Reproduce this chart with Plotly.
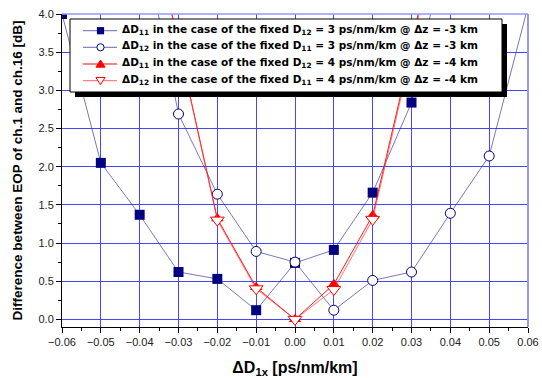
import plotly.graph_objects as go

# Dispersion offset ΔD1x [ps/nm/km]
dx = [-0.06, -0.05, -0.04, -0.03, -0.02, -0.01, 0.00, 0.01, 0.02, 0.03, 0.04, 0.05, 0.06]

# EOP difference between ch.1 and ch.16 [dB]
d11_fix3 = [4.00, 2.05, 1.37, 0.62, 0.53, 0.12, 0.74, 0.91, 1.66, 2.84, 5.20, None, None]
d12_fix3 = [None, None, 5.20, 2.69, 1.64, 0.89, 0.75, 0.12, 0.51, 0.62, 1.39, 2.14, 4.10]
d11_fix4 = [None, None, 5.90, 3.60, 1.32, 0.42, 0.00, 0.46, 1.36, 3.55, 6.20, None, None]
d12_fix4 = [None, None, 5.90, 3.60, 1.30, 0.40, 0.00, 0.39, 1.31, 3.50, 6.10, None, None]

names = [
    "ΔD<sub>11</sub> in the case of the fixed D<sub>12</sub> = 3 ps/nm/km @ Δz = -3 km",
    "ΔD<sub>12</sub> in the case of the fixed D<sub>11</sub> = 3 ps/nm/km @ Δz = -3 km",
    "ΔD<sub>11</sub> in the case of the fixed D<sub>12</sub> = 4 ps/nm/km @ Δz = -4 km",
    "ΔD<sub>12</sub> in the case of the fixed D<sub>11</sub> = 4 ps/nm/km @ Δz = -4 km",
]

NAVY = "#000080"
NAVY_LINE = "rgba(40,40,150,0.7)"
RED = "#ff0000"
RED_LINE2 = "rgba(255,60,60,0.8)"
GRID = "rgb(70,70,255)"
FONT = "Liberation Sans, Arial, sans-serif"
LEG_FONT = "DejaVu Sans, Verdana, sans-serif"

styles = [
    dict(line=dict(color=NAVY_LINE, width=0.9),
         marker=dict(symbol="square", size=10, color=NAVY, line=dict(width=0))),
    dict(line=dict(color=NAVY_LINE, width=0.9),
         marker=dict(symbol="circle", size=10, color="white", line=dict(width=1, color=NAVY))),
    dict(line=dict(color=RED, width=0.9),
         marker=dict(symbol="triangle-up", size=11, color=RED, line=dict(width=0))),
    dict(line=dict(color=RED_LINE2, width=0.9),
         marker=dict(symbol="triangle-down", size=12, color="white", line=dict(width=1, color=RED))),
]

fig = go.Figure()
for ys, name, st in zip([d11_fix3, d12_fix3, d11_fix4, d12_fix4], names, styles):
    fig.add_trace(go.Scatter(x=dx, y=ys, name=name, mode="lines+markers",
                             showlegend=False, **st))

W, H = 542, 378
L, R, T, B = 62, 14, 14, 51
pw, ph = W - L - R, H - T - B


def px_x(p):
    return (p - L) / pw


def px_y(p):
    return 1 - (p - T) / ph


fig.update_layout(
    width=W, height=H,
    margin=dict(l=L, r=R, t=T, b=B, pad=0, autoexpand=False),
    paper_bgcolor="white", plot_bgcolor="white",
    font=dict(family=FONT, size=11, color="#111"),
    showlegend=False,
    xaxis=dict(
        range=[-0.06, 0.06], dtick=0.01, tickformat=".2f", automargin=False,
        showgrid=True, gridcolor=GRID, gridwidth=1, zeroline=False,
        showline=True, linecolor="black", linewidth=1,
        ticks="outside", ticklen=5, tickcolor="black",
        minor=dict(dtick=0.005, ticks="outside", ticklen=3, tickcolor="black", showgrid=False),
        title=dict(text="<b>ΔD<sub>1x</sub> [ps/nm/km]</b>", font=dict(size=16, color="black"), standoff=18),
        tickfont=dict(size=11, color="#222"),
    ),
    yaxis=dict(
        range=[-0.1, 4.0], dtick=0.5, tick0=0, tickformat=".1f", automargin=False,
        showgrid=True, gridcolor=GRID, gridwidth=1, zeroline=False,
        showline=True, linecolor="black", linewidth=1,
        ticks="outside", ticklen=5, tickcolor="black",
        minor=dict(dtick=0.25, ticks="outside", ticklen=3, tickcolor="black", showgrid=False),
        title=dict(text="<b>Difference between EOP of ch.1 and ch.16 [dB]</b>", font=dict(size=13.5, color="black"), standoff=12),
        tickfont=dict(size=11, color="#222"),
    ),
)

# light blue frame on the top and right edges
fig.add_shape(type="line", xref="paper", yref="paper", x0=0, x1=1, y0=1, y1=1,
              line=dict(color="rgb(150,150,255)", width=1.5), layer="above")
fig.add_shape(type="line", xref="paper", yref="paper", x0=1, x1=1, y0=0, y1=1,
              line=dict(color="rgb(150,150,255)", width=2), layer="above")

# ---- legend box with drop shadow ----
box_l, box_r, box_t, box_b = 70, 502, 19, 92
shadow = 5
fig.add_shape(type="rect", xref="paper", yref="paper",
              x0=px_x(box_l + shadow), x1=px_x(box_r + shadow),
              y0=px_y(box_b + shadow), y1=px_y(box_t + shadow),
              fillcolor="black", line=dict(width=0), layer="above")
fig.add_shape(type="rect", xref="paper", yref="paper",
              x0=px_x(box_l), x1=px_x(box_r), y0=px_y(box_b), y1=px_y(box_t),
              fillcolor="white", line=dict(color="black", width=1), layer="above")

row_y = [30.7, 47.3, 64.0, 80.7]
key_l, key_r, key_c, text_x = 83, 117, 100.5, 120
ms = 3.6  # half size of legend key symbols


def key_symbol(kind, cx, cy, st):
    col = st["marker"]["color"]
    edge = st["marker"]["line"].get("color", col)
    if kind == "square":
        fig.add_shape(type="rect", xref="paper", yref="paper",
                      x0=px_x(cx - ms), x1=px_x(cx + ms), y0=px_y(cy + ms), y1=px_y(cy - ms),
                      fillcolor=col, line=dict(width=0), layer="above")
    elif kind == "circle":
        fig.add_shape(type="circle", xref="paper", yref="paper",
                      x0=px_x(cx - ms), x1=px_x(cx + ms), y0=px_y(cy + ms), y1=px_y(cy - ms),
                      fillcolor=col, line=dict(color=edge, width=1), layer="above")
    else:
        h = ms * 1.1
        if kind == "triangle-up":
            pts = [(cx, cy - h), (cx + h * 1.15, cy + h * 0.8), (cx - h * 1.15, cy + h * 0.8)]
        else:
            pts = [(cx, cy + h), (cx + h * 1.15, cy - h * 0.8), (cx - h * 1.15, cy - h * 0.8)]
        path = "M " + " L ".join(f"{px_x(a):.5f},{px_y(b):.5f}" for a, b in pts) + " Z"
        fig.add_shape(type="path", xref="paper", yref="paper", path=path,
                      fillcolor=col, line=dict(color=edge, width=1), layer="above")


for cy, name, st in zip(row_y, names, styles):
    fig.add_shape(type="line", xref="paper", yref="paper",
                  x0=px_x(key_l), x1=px_x(key_r), y0=px_y(cy), y1=px_y(cy),
                  line=dict(color=st["line"]["color"], width=1), layer="above")
    key_symbol(st["marker"]["symbol"], key_c, cy, st)
    fig.add_annotation(
        xref="paper", yref="paper", x=px_x(text_x), y=px_y(cy - 1),
        xanchor="left", yanchor="middle", showarrow=False,
        text=f"<b>{name}</b>",
        font=dict(family=LEG_FONT, size=10.5, color="black"),
    )

fig.write_html("out.html")
